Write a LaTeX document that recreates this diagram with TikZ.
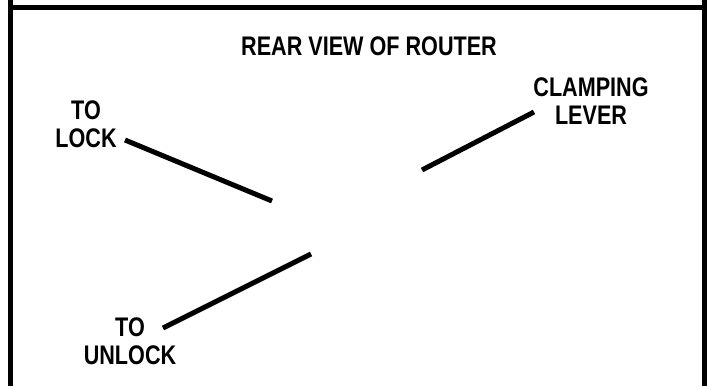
\documentclass[tikz,border=0pt]{standalone}
\usepackage{fontspec}
\setmainfont{Liberation Sans}
\tikzset{
	lbl/.style={inner sep=0.75pt, align=center, font=\fontsize{18}{19}\selectfont\bfseries, xscale=0.9, yscale=1.12},
	lever/.style={line width=3.75pt},
	frame/.style={line width=3.75pt}
}
\begin{document}
\begin{tikzpicture}[x=0.75pt,y=0.75pt,yscale=-1,xscale=1]
	\useasboundingbox (0,0) rectangle (709,386);
	% frame
	\draw [frame] (10.5,386) -- (10.5,0) ;
	\draw [frame] (704.5,386) -- (704.5,0) ;
	\draw [frame] (10.5,7.5) -- (704.5,7.5) ;
	% labels
	\node [lbl] (title) at (369,46) {REAR VIEW OF ROUTER};
	\node [lbl] (lock) at (86,124) {TO\\LOCK};
	\node [lbl] (clamp) at (591,101) {CLAMPING\\LEVER};
	\node [lbl] (unlock) at (130,341) {TO\\UNLOCK};
	% lever ends
	\coordinate (lockA) at (125,140);
	\coordinate (lockB) at (272,201);
	\coordinate (clampA) at (422,170);
	\coordinate (clampB) at (534,112);
	\coordinate (unlockA) at (163,328);
	\coordinate (unlockB) at (311,254);
	\draw [lever] (lockA) -- (lockB) ;
	\draw [lever] (clampA) -- (clampB) ;
	\draw [lever] (unlockA) -- (unlockB) ;
\end{tikzpicture}
\end{document}
